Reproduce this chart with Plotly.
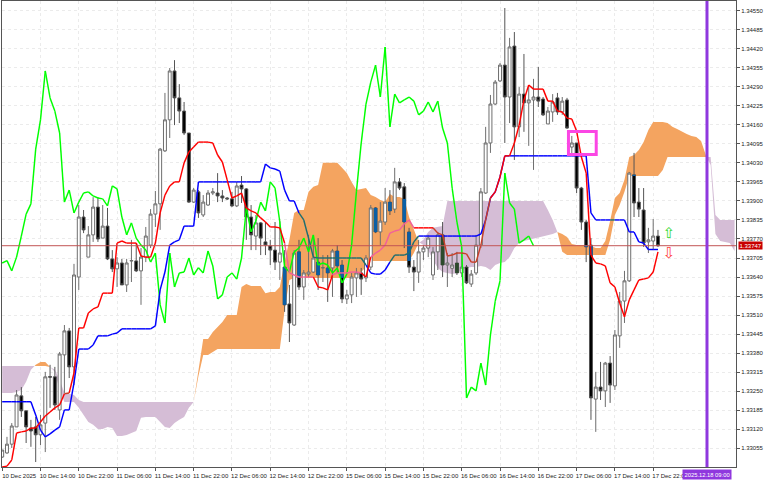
import plotly.graph_objects as go

# All prices are stored as points (1/100000) above BASE_PRICE.
BASE_PRICE = 1.33
POINT = 0.00001

candle_open = [25,39,69,128,234,183,124,128,101,141,300,299,186,374,456,333,640,845,708,784,879,773,814,702,668,688,613,695,695,661,708,749,855,890,1071,1177,1344,1252,1207,1132,896,931,852,886,927,927,917,910,907,883,954,941,845,780,825,760,746,732,691,674,548,476,726,606,650,657,691,671,671,671,729,681,565,579,637,654,637,674,876,794,828,896,872,965,948,794,674,657,726,739,647,726,784,681,670,688,654,674,616,654,749,927,1098,1231,1310,1364,1255,1429,1153,1265,1235,1245,1255,1248,1163,1204,1252,1204,1245,1084,1098,944,828,749,223,264,251,346,268,439,558,627,989,896,869,760,763,780]
candle_high = [49,94,141,254,264,183,152,162,169,316,340,333,384,476,466,685,886,869,814,913,913,886,876,732,708,702,702,767,756,739,811,872,934,1081,1269,1354,1381,1299,1238,1132,944,937,920,937,944,995,937,913,931,965,985,944,886,852,828,828,767,828,831,732,613,732,767,664,784,773,773,715,715,736,749,698,596,654,671,671,715,886,879,896,944,937,1013,978,961,808,698,767,749,784,743,794,828,722,722,726,722,681,664,784,944,1153,1262,1313,1371,1559,1457,1477,1289,1402,1296,1317,1358,1255,1221,1265,1269,1255,1252,1122,1098,948,835,773,316,350,350,370,459,589,661,999,1064,944,944,808,838,801]
candle_low = [22,36,56,128,162,73,60,8,66,42,193,186,152,244,295,271,596,790,708,760,760,773,698,657,606,613,589,623,657,545,691,739,811,801,1067,1115,1159,1166,1125,893,893,842,845,883,920,896,896,903,879,879,893,767,732,732,715,715,681,664,630,521,418,473,596,562,640,654,596,623,555,572,654,551,548,551,572,579,623,664,790,749,818,852,859,937,739,654,592,620,698,708,630,664,640,606,640,647,640,616,606,647,739,924,1064,1228,1306,1098,1166,1040,1118,1136,1088,1006,1221,1190,1163,1170,1194,1194,1146,1057,927,801,691,152,111,220,196,210,254,398,483,623,845,845,743,722,732,743]
candle_close = [49,69,131,237,183,128,114,101,135,299,298,203,377,456,333,647,845,801,784,879,770,814,702,668,688,613,688,696,661,708,780,855,890,1077,1177,1344,1252,1207,1132,896,937,859,896,927,931,917,910,907,883,951,941,845,784,825,773,749,732,691,722,545,483,722,606,654,657,705,647,672,654,729,678,565,579,640,654,633,705,876,794,831,896,866,965,944,828,674,657,726,739,773,726,784,681,688,681,654,674,620,650,749,931,1098,1231,1306,1364,1255,1426,1153,1265,1235,1245,1255,1241,1194,1207,1238,1204,1241,1149,1098,944,828,743,227,264,251,346,271,442,558,627,995,893,872,756,767,780,747]

tenkan = [-9,-6,15,107,111,114,124,124,145,165,179,193,203,241,244,312,466,466,517,531,538,585,585,585,756,763,756,756,756,712,708,708,756,859,920,951,965,965,1030,1067,1084,1101,1101,1101,1098,1057,1033,972,910,917,927,876,866,859,842,828,811,811,808,756,654,647,640,640,640,640,606,603,596,647,654,654,654,657,657,654,640,708,722,732,749,790,797,801,821,835,808,808,808,808,808,790,784,712,715,722,722,719,691,691,749,835,910,931,982,1054,1054,1098,1159,1245,1296,1282,1282,1282,1241,1241,1207,1204,1183,1180,1139,1050,995,715,688,685,678,620,606,551,504,562,596,630,633,637,657,726]
kijun = [214,214,214,214,214,214,214,169,117,94,104,117,128,186,186,278,394,394,394,408,439,439,439,445,449,463,463,463,463,463,463,463,473,596,657,749,760,767,814,814,814,965,965,965,965,965,965,965,965,965,965,965,965,965,965,1026,1013,1009,1002,937,900,900,859,835,773,708,705,705,705,705,705,705,705,705,705,705,681,654,650,650,664,691,715,715,715,722,760,780,780,780,780,780,780,780,780,780,780,780,780,780,787,835,910,931,982,1054,1054,1054,1054,1054,1054,1054,1054,1054,1054,1054,1054,1054,1054,1054,1054,1054,1054,859,835,835,835,835,835,835,835,794,794,760,756,734,734,734]
chikou = [688,696,661,708,780,855,890,1077,1177,1344,1252,1207,1132,896,937,859,896,927,931,917,910,907,883,951,941,845,784,825,773,749,732,691,722,545,483,722,606,654,657,705,647,672,654,729,678,565,579,640,654,633,705,876,794,831,896,866,965,944,828,674,657,726,739,773,726,784,681,688,681,654,671,620,650,749,931,1098,1231,1306,1364,1255,1426,1153,1265,1235,1245,1255,1241,1194,1207,1238,1204,1241,1149,1098,944,828,743,227,264,251,346,271,442,558,627,995,893,872,756,767,780,747]

senkou_a = [244,244,244,247,254,282,323,340,350,350,333,316,254,213,213,213,193,169,145,135,121,121,128,124,97,97,100,107,114,159,162,162,162,145,128,124,141,152,162,193,213,329,428,428,452,469,486,510,510,510,606,616,609,609,609,585,589,589,606,691,767,859,869,869,931,948,954,1030,1030,1030,1030,1013,995,965,937,941,944,920,913,903,896,924,913,913,907,845,801,760,749,732,698,671,657,654,650,654,664,671,674,674,678,674,664,681,688,691,708,739,756,763,767,773,777,780,784,787,794,787,777,753,749,749,749,746,739,739,763,831,910,927,972,1050,1057,1074,1101,1142,1170,1170,1170,1166,1153,1146,1136,1129,1122,1118,1105,1054,1023,787,763,760,756,729]
senkou_b = [336,336,336,336,336,336,336,336,336,336,333,323,288,244,241,237,220,213,213,213,213,213,213,213,213,213,213,213,213,213,213,213,213,213,213,213,213,213,213,213,213,302,374,374,384,394,394,394,394,394,394,394,394,394,394,394,394,394,394,527,630,637,637,637,637,637,637,637,637,637,637,637,637,637,640,657,674,695,695,695,695,695,695,695,695,695,722,756,767,794,808,811,814,900,900,900,900,900,900,900,900,900,900,900,900,900,900,900,900,900,900,900,900,900,869,835,793,726,715,715,715,715,715,715,715,715,715,767,852,886,931,985,985,985,985,985,985,985,1006,1050,1050,1050,1050,1050,1050,1050,1050,1050,1050,852,835,835,835,835]

tick_bars = [0,8,16,24,32,40,48,56,64,72,80,88,96,104,112,120,128,136]
tick_labels = ["10 Dec 2025","10 Dec 14:00","10 Dec 22:00","11 Dec 06:00","11 Dec 14:00","11 Dec 22:00","12 Dec 06:00","12 Dec 14:00","12 Dec 22:00","15 Dec 06:00","15 Dec 14:00","15 Dec 22:00","16 Dec 06:00","16 Dec 14:00","16 Dec 22:00","17 Dec 06:00","17 Dec 14:00","17 Dec 22:00"]
price_ticks = ["1.34550","1.34485","1.34420","1.34355","1.34290","1.34225","1.34160","1.34095","1.34030","1.33965","1.33900","1.33835","1.33770","1.33705","1.33640","1.33575","1.33510","1.33445","1.33380","1.33315","1.33250","1.33185","1.33120","1.33055"]

current_price = "1.33747"
vline_label = "2025.12.18 09:00"
vline_bar = 147.24
box_bars = (118.3, 124.1)
box_points = (1059, 1137)
up_arrow = (139.3, 785)
down_arrow = (139.3, 717)

assert len(candle_open) == len(candle_high) == len(candle_low) == len(candle_close) == 138
assert len(tenkan) == 138 and len(kijun) == 138 and len(chikou) == 112
assert len(senkou_a) == 154 and len(senkou_b) == 154


def price(p):
    return round(BASE_PRICE + p * POINT, 5)


ORANGE = "#F4A460"
THISTLE = "#D5BDD6"
BLUE_ON_ORANGE = "#1E6E70"
RED_ON_ORANGE = "#F2609A"
RED_ON_THISTLE = "#C8402A"
BODY_ON_ORANGE = "#0B5FA5"
BODY_ON_THISTLE = "#2C4A2C"

XR = [-0.04, 153.3]
YR = [price(-8.9), price(1583)]

fig = go.Figure()


# ---- cloud, on the base axes so it stays underneath the candles ----
def cloud_runs():
    runs, cur, cur_up = [], None, None
    for i in range(len(senkou_a)):
        a, b = senkou_a[i], senkou_b[i]
        up = a >= b
        if cur is None:
            cur, cur_up = [(i, a, b)], up
        elif up == cur_up:
            cur.append((i, a, b))
        else:
            pa, pb = senkou_a[i - 1], senkou_b[i - 1]
            t = (pb - pa) / ((a - pa) - (b - pb))
            cx, cy = i - 1 + t, pa + (a - pa) * t
            cur.append((cx, cy, cy))
            runs.append((cur_up, cur))
            cur, cur_up = [(cx, cy, cy), (i, a, b)], up
    runs.append((cur_up, cur))
    return runs


for up, run in cloud_runs():
    xs = [r[0] for r in run] + [r[0] for r in reversed(run)]
    ys = [price(r[1]) for r in run] + [price(r[2]) for r in reversed(run)]
    fig.add_trace(go.Scatter(x=xs, y=ys, mode="lines", fill="toself",
                             fillcolor=ORANGE if up else THISTLE,
                             line=dict(width=0), hoverinfo="skip", showlegend=False))

# ---- candles ----
fig.add_trace(go.Candlestick(
    x=list(range(len(candle_open))),
    open=[price(v) for v in candle_open], high=[price(v) for v in candle_high],
    low=[price(v) for v in candle_low], close=[price(v) for v in candle_close],
    increasing=dict(line=dict(color="#6E6E6E", width=1), fillcolor="#FFFFFF"),
    decreasing=dict(line=dict(color="#555555", width=1), fillcolor="#000000"),
    whiskerwidth=0, xaxis="x2", yaxis="y2", showlegend=False, hoverinfo="skip"))

# ---- bearish bodies seen through the cloud change tint ----
tinted = {BODY_ON_ORANGE: ([], []), BODY_ON_THISTLE: ([], [])}
for i, (o, c) in enumerate(zip(candle_open, candle_close)):
    if o <= c:
        continue
    a, b = senkou_a[i], senkou_b[i]
    lo, hi = max(c, min(a, b)), min(o, max(a, b))
    if hi > lo:
        key = BODY_ON_ORANGE if a >= b else BODY_ON_THISTLE
        tinted[key][0].extend([i, i, None])
        tinted[key][1].extend([price(lo), price(hi), None])
for col, (xs, ys) in tinted.items():
    fig.add_trace(go.Scatter(x=xs, y=ys, mode="lines", line=dict(color=col, width=3.4),
                             xaxis="x2", yaxis="y2", hoverinfo="skip", showlegend=False))


# ---- indicator lines, tinted where they cross the cloud ----
def add_line(values, base, on_orange, on_thistle, width=1.45):
    groups = {}
    for i in range(len(values) - 1):
        mid = (values[i] + values[i + 1]) / 2
        a = (senkou_a[i] + senkou_a[i + 1]) / 2
        b = (senkou_b[i] + senkou_b[i + 1]) / 2
        col = base
        if min(a, b) <= mid <= max(a, b):
            col = on_orange if a >= b else on_thistle
        xs, ys = groups.setdefault(col, ([], []))
        xs.extend([i, i + 1, None])
        ys.extend([price(values[i]), price(values[i + 1]), None])
    for col, (xs, ys) in groups.items():
        fig.add_trace(go.Scatter(x=xs, y=ys, mode="lines", line=dict(color=col, width=width),
                                 xaxis="x2", yaxis="y2", hoverinfo="skip", showlegend=False))


add_line(chikou, "#00FF00", "#00FF00", "#00FF00")
add_line(kijun, "#0000FF", BLUE_ON_ORANGE, "#0000FF")
add_line(tenkan, "#FF0000", RED_ON_ORANGE, RED_ON_THISTLE)

# ---- signal arrows ----
fig.add_trace(go.Scatter(x=[up_arrow[0]], y=[price(up_arrow[1])], mode="text", text=["\u21e7"],
                         textfont=dict(family="DejaVu Sans", size=15, color="#2FD82F"),
                         xaxis="x2", yaxis="y2", hoverinfo="skip", showlegend=False))
fig.add_trace(go.Scatter(x=[down_arrow[0]], y=[price(down_arrow[1])], mode="text", text=["\u21e9"],
                         textfont=dict(family="DejaVu Sans", size=15, color="#FF4040"),
                         xaxis="x2", yaxis="y2", hoverinfo="skip", showlegend=False))

shapes = [
    dict(type="line", xref="paper", x0=0, x1=1, yref="y", y0=float(current_price), y1=float(current_price),
         line=dict(color="#C25555", width=1)),
    dict(type="line", xref="x", x0=vline_bar, x1=vline_bar, yref="paper", y0=0, y1=1,
         line=dict(color="#8F38DE", width=3)),
    dict(type="rect", xref="x", x0=box_bars[0], x1=box_bars[1], yref="y",
         y0=price(box_points[0]), y1=price(box_points[1]),
         line=dict(color="#FB46E4", width=3), fillcolor="rgba(0,0,0,0)"),
]

annotations = [
    dict(text=current_price, xref="paper", x=1, xanchor="left", xshift=2, yref="y", y=float(current_price),
         yanchor="middle", showarrow=False, bgcolor="#C80000", borderpad=0.5,
         font=dict(family="Liberation Sans", size=6, color="#FFFFFF")),
    dict(text=vline_label, xref="x", x=vline_bar, xanchor="center", yref="paper", y=0, yanchor="top", yshift=-2,
         showarrow=False, bgcolor="#8F38DE", borderpad=1.5,
         font=dict(family="Liberation Sans", size=5.8, color="#FFFFFF")),
]

axis_font = dict(family="Liberation Sans", size=6, color="#222222")
GRID = "#EBEBEB"

fig.update_layout(
    width=768, height=480, margin=dict(l=1.5, r=32, t=1, b=13, autoexpand=False), autosize=False,
    paper_bgcolor="#FFFFFF", plot_bgcolor="#FFFFFF", showlegend=False, boxgap=0.12,
    shapes=shapes, annotations=annotations,
    xaxis=dict(range=XR, tickmode="array", tickvals=tick_bars, ticktext=tick_labels, tickfont=axis_font,
               ticks="outside", ticklen=3, tickcolor="#555555", ticklabelshift=17, tickangle=0, automargin=False,
               showgrid=True, gridcolor=GRID, griddash="3px,3px", gridwidth=1, zeroline=False,
               showline=True, linecolor="#555555", linewidth=1, mirror=True, fixedrange=True),
    yaxis=dict(range=YR, side="right", tickmode="array", tickvals=[float(t) for t in price_ticks],
               ticktext=price_ticks, tickfont=axis_font, ticks="outside", ticklen=3, tickcolor="#555555", automargin=False,
               showgrid=True, gridcolor=GRID, griddash="3px,3px", gridwidth=1, zeroline=False,
               showline=True, linecolor="#555555", linewidth=1, mirror=True, fixedrange=True),
    xaxis2=dict(range=XR, overlaying="x", anchor="y2", visible=False, rangeslider=dict(visible=False), fixedrange=True),
    yaxis2=dict(range=YR, overlaying="y", anchor="x2", visible=False, fixedrange=True),
)

fig.write_html("out.html", config={"displayModeBar": False},
               post_script="document.body.style.margin='0';")
